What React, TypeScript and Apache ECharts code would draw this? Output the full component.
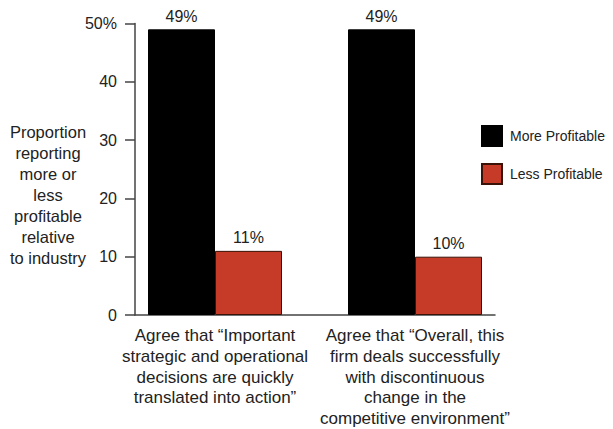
import React, { useEffect, useRef } from "react";
import * as echarts from "echarts";

const categories = [
  "Agree that \u201cImportant\nstrategic and operational\ndecisions are quickly\ntranslated into action\u201d",
  "Agree that \u201cOverall, this\nfirm deals successfully\nwith discontinuous\nchange in the\ncompetitive environment\u201d",
];
const categoryPositions = [1, 2];
const moreProfitable = [49, 49];
const lessProfitable = [11, 10];
const yTicks = [0, 10, 20, 30, 40, 50];
const axisTitle = "Proportion\nreporting\nmore or\nless\nprofitable\nrelative\nto industry";

const FONT = "Liberation Sans, Arial, sans-serif";

export default function App() {
  const ref = useRef<HTMLDivElement>(null);
  useEffect(() => {
    if (!ref.current) return;
    const chart = echarts.init(ref.current, undefined, { renderer: "svg" });
    const labelStyle = {
      show: true,
      position: "top" as const,
      distance: 5,
      fontSize: 16,
      color: "#222",
      fontFamily: FONT,
      formatter: (p: any) => `${p.value[1]}%`,
    };
    chart.setOption({
      animation: false,
      backgroundColor: "#fff",
      textStyle: { fontFamily: FONT },
      grid: { left: 135, right: 118, top: 23.5, bottom: 110.5 },
      legend: {
        orient: "vertical",
        left: 481,
        top: 125,
        itemWidth: 20,
        itemHeight: 20,
        itemGap: 16,
        icon: "rect",
        padding: 0,
        textStyle: { fontSize: 14, color: "#222", fontFamily: FONT, padding: [0, 0, 0, 3] },
        data: ["More Profitable", "Less Profitable"],
      },
      graphic: [
        {
          type: "text",
          x: 48,
          y: 121.5,
          style: {
            text: axisTitle,
            fontSize: 16.5,
            lineHeight: 21,
            fill: "#222",
            fontFamily: FONT,
            align: "center",
            verticalAlign: "top",
          },
        },
      ],
      xAxis: {
        type: "value",
        min: 0.6,
        max: 2.4,
        splitLine: { show: false },
        axisTick: { show: false },
        axisLine: { show: true, lineStyle: { color: "#444", width: 1.5 } },
        axisLabel: {
          customValues: categoryPositions,
          formatter: (v: number) => {
            const i = categoryPositions.indexOf(Math.round(v));
            return i >= 0 && Math.abs(v - categoryPositions[i]) < 1e-6 ? categories[i] : "";
          },
          fontSize: 17,
          lineHeight: 20.8,
          color: "#222",
          fontFamily: FONT,
          margin: 10,
          verticalAlign: "top",
        },
      },
      yAxis: {
        type: "value",
        min: 0,
        max: 50,
        interval: 10,
        splitLine: { show: false },
        axisLine: { show: true, lineStyle: { color: "#444", width: 1.5 } },
        axisTick: { show: true, length: 10, lineStyle: { color: "#444", width: 1.5 } },
        axisLabel: {
          fontSize: 16,
          color: "#222",
          fontFamily: FONT,
          margin: 18,
          formatter: (v: number) => (v === yTicks[yTicks.length - 1] ? `${v}%` : `${v}`),
        },
      },
      series: [
        {
          name: "More Profitable",
          type: "bar",
          barWidth: 67,
          barGap: "0%",
          data: categoryPositions.map((x, i) => [x, moreProfitable[i]]),
          itemStyle: { color: "#000", borderColor: "#000", borderWidth: 1 },
          label: labelStyle,
        },
        {
          name: "Less Profitable",
          type: "bar",
          barWidth: 67,
          barGap: "0%",
          data: categoryPositions.map((x, i) => [x, lessProfitable[i]]),
          itemStyle: { color: "#c63b28", borderColor: "#3a1208", borderWidth: 1 },
          label: labelStyle,
        },
      ],
    });
    return () => chart.dispose();
  }, []);
  return (
    <div
      ref={ref}
      style={{ position: "absolute", left: 0, top: 0, width: 613, height: 429 }}
    />
  );
}
